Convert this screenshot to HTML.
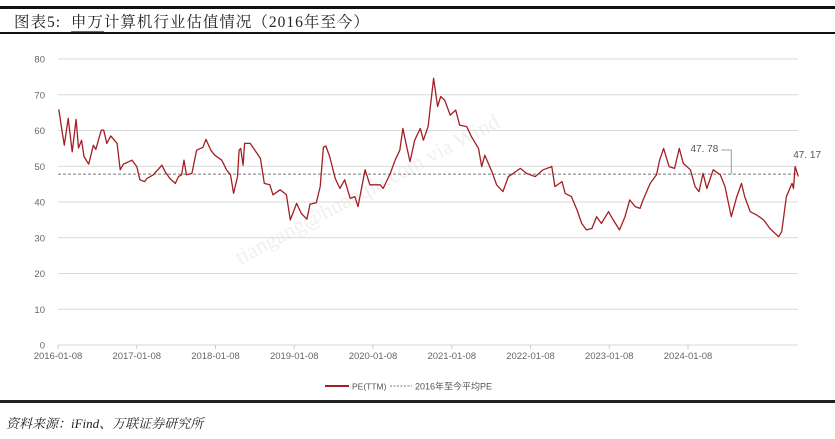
<!DOCTYPE html>
<html><head><meta charset="utf-8">
<style>
html,body{margin:0;padding:0;background:#fff;}
body{width:835px;height:439px;overflow:hidden;position:relative;font-family:"Liberation Sans","Noto Sans CJK SC",sans-serif;}
.title{position:absolute;left:14px;top:10px;font-family:"Liberation Serif","Noto Serif CJK SC",serif;font-size:15.5px;color:#222;letter-spacing:1px;}
.foot{position:absolute;left:6px;top:413px;font-family:"Liberation Serif","Noto Serif CJK SC",serif;font-style:italic;font-size:13px;color:#222;}
</style></head><body>
<div style="position:absolute;left:0;top:6px;width:835px;height:3px;background:#111"></div>
<div class="title">图表5:&nbsp; <span style="border-bottom:2px solid #2a8fa0">申万</span>计算机行业估值情况（2016年至今）</div>
<div style="position:absolute;left:0;top:32px;width:835px;height:2px;background:#111"></div>
<svg id="chart" width="835" height="439" style="position:absolute;left:0;top:0" xmlns="http://www.w3.org/2000/svg"></svg>
<div style="position:absolute;left:0;top:400px;width:835px;height:3px;background:#222"></div>
<div class="foot">资料来源：iFind、万联证券研究所</div>
<script>
const yTicks=[0,10,20,30,40,50,60,70,80];
const xLabels=["2016-01-08","2017-01-08","2018-01-08","2019-01-08","2020-01-08","2021-01-08","2022-01-08","2023-01-08","2024-01-08"];
const avgPE=47.78;
const lastPE=47.17;
const tYears=[0.01,0.05,0.08,0.13,0.18,0.23,0.26,0.30,0.33,0.39,0.45,0.48,0.55,0.58,0.62,0.67,0.75,0.79,0.83,0.94,1.00,1.04,1.10,1.13,1.21,1.32,1.36,1.42,1.49,1.53,1.57,1.60,1.63,1.70,1.76,1.84,1.88,1.94,1.99,2.08,2.14,2.19,2.23,2.28,2.30,2.32,2.35,2.37,2.44,2.50,2.57,2.62,2.69,2.73,2.82,2.90,2.95,3.03,3.09,3.16,3.20,3.28,3.33,3.37,3.40,3.45,3.52,3.58,3.64,3.71,3.77,3.81,3.90,3.96,4.09,4.13,4.22,4.28,4.34,4.38,4.41,4.47,4.53,4.60,4.64,4.70,4.77,4.82,4.86,4.91,4.98,5.05,5.10,5.19,5.25,5.34,5.38,5.42,5.51,5.57,5.65,5.72,5.78,5.87,5.95,6.06,6.16,6.27,6.31,6.40,6.44,6.52,6.59,6.65,6.71,6.78,6.84,6.90,6.99,7.05,7.13,7.20,7.26,7.33,7.39,7.43,7.52,7.60,7.64,7.69,7.76,7.83,7.89,7.94,8.03,8.09,8.14,8.19,8.24,8.32,8.41,8.47,8.55,8.62,8.68,8.72,8.79,8.87,8.96,9.04,9.15,9.19,9.25,9.32,9.34,9.36,9.40];
const peValues=[65.9,60.1,55.9,63.4,54,63.1,55.1,57.3,52.7,50.6,55.9,54.7,60.1,60.1,56.4,58.5,56.4,49,50.6,51.7,49.9,46.2,45.7,46.6,47.6,50.3,48.5,46.6,45.2,47.1,47.6,51.7,47.6,48,54.5,55.3,57.5,54.5,53.1,51.7,49,47.6,42.4,47.1,54.5,55,50.3,56.4,56.4,54.5,52.2,45.2,44.8,42,43.4,42,35,39.6,36.8,35.2,39.4,39.8,44.3,55.3,55.7,52.7,46.6,43.8,46.2,41,41.5,38.7,49,44.8,44.8,43.8,48,51.7,54.5,60.6,57.3,51.3,57.3,60.6,57.3,61.1,74.6,66.7,69.5,68.5,64.3,65.7,61.5,61.1,58.3,55,49.9,53.1,48.5,44.8,42.9,47.1,48,49.4,48,47.1,49,49.9,44.3,45.7,42.4,41.5,37.8,34,32.2,32.6,35.9,34,37.3,35,32.2,35.9,40.6,38.7,38.2,40.6,45.2,47.6,51.7,55,49.9,49.4,55,50.8,49,44.3,42.9,48,43.8,49,47.6,44.3,35.9,41.5,45.2,41.5,37.3,36.4,35,32.6,30.3,31.7,41.5,45.2,43.8,49.9,47.17];

const svg=document.getElementById('chart');
const NS='http://www.w3.org/2000/svg';
const X0=58,YEARW=78.75,Y0=345,UNIT=3.575,XR=798;
const xs=t=>X0+t*YEARW;
const ys=v=>Y0-v*UNIT;
function mk(tag,attrs,text){const e=document.createElementNS(NS,tag);for(const k in attrs)e.setAttribute(k,attrs[k]);if(text!==undefined)e.textContent=text;svg.appendChild(e);return e;}

const wm=mk('text',{x:240,y:265,transform:'rotate(-28 240 265)','font-size':22,fill:'#f0f0f0','font-family':'Liberation Serif, serif'},'tiangang@huanqiu.com via Wind');



yTicks.forEach(v=>{
  const g=mk('line',{x1:X0,x2:XR,y1:ys(v),y2:ys(v),stroke:'#d9d9d9','stroke-width':1});
  
  
  const t=mk('text',{x:45,y:ys(v)+3.5,'text-anchor':'end','font-size':9.5,fill:'#666'},String(v));
  
  
});
xLabels.forEach((l,i)=>{
  const tk=mk('line',{x1:xs(i),x2:xs(i),y1:Y0,y2:Y0+4,stroke:'#ccc'});
  
  
  const t=mk('text',{x:xs(i),y:359,'text-anchor':'middle','font-size':9.5,fill:'#666'},l);
  
  
});
const av=mk('line',{x1:X0,x2:XR,y1:ys(avgPE),y2:ys(avgPE),stroke:'#777','stroke-width':1,'stroke-dasharray':'3,2'});


const pts=tYears.map((t,i)=>xs(t).toFixed(1)+','+ys(peValues[i]).toFixed(1)).join(' ');
const pl=mk('polyline',{points:pts,fill:'none',stroke:'#a31f24','stroke-width':1.3,'stroke-linejoin':'round'});


const ax=xs(8.55);
const br=mk('polyline',{points:(ax-10)+','+150+' '+ax+','+150+' '+ax+','+ys(avgPE),fill:'none',stroke:'#999','stroke-width':1});


const a1=mk('text',{x:ax-13,y:152,'text-anchor':'end','font-size':10,fill:'#555'},avgPE.toFixed(2).replace('.', '. '));


const a2=mk('text',{x:xs(tYears[tYears.length-1])-5,y:158,'font-size':10,fill:'#555'},lastPE.toFixed(2).replace('.', '. '));


const l1=mk('line',{x1:325,x2:349,y1:386,y2:386,stroke:'#a31f24','stroke-width':2});


const lt1=mk('text',{x:352,y:389.5,'font-size':8.5,fill:'#555'},'PE(TTM)');


const l2=mk('line',{x1:390,x2:412,y1:386,y2:386,stroke:'#777','stroke-width':1,'stroke-dasharray':'2,1.5'});


const lt2=mk('text',{x:415,y:389.5,'font-size':9,fill:'#555'},'2016年至今平均PE');


</script>
</body></html>
